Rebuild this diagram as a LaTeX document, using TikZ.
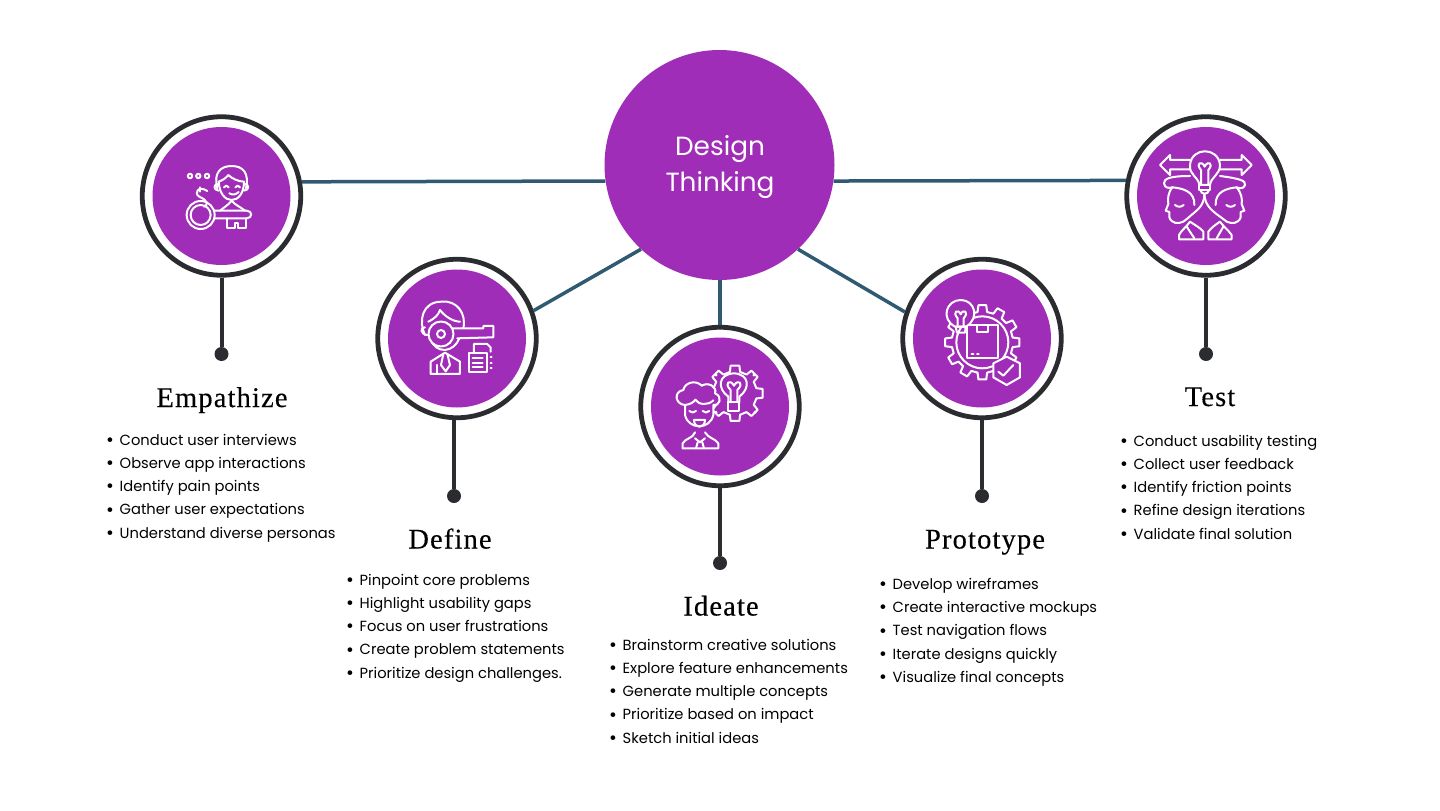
\documentclass[tikz,border=0pt]{standalone}
\usepackage{fontspec}
\setmainfont{Poppins}
\newfontfamily\headfont[LetterSpace=4,FakeBold=0.25]{Liberation Serif}
\usetikzlibrary{positioning,calc}
\definecolor{purp}{HTML}{A02DB8}
\definecolor{ringcol}{HTML}{2A2C30}
\definecolor{linkcol}{HTML}{2F5A72}
\newcommand{\bl}{\makebox[13.5pt][l]{\raisebox{-1.2pt}{\fontsize{19}{19}\selectfont\textbullet}}}
% gear outline: centre x, centre y, inner radius, outer radius, step angle
\newcommand{\gearic}[5]{
  \pgfmathsetmacro{\wa}{#5*0.30}
  \pgfmathsetmacro{\wb}{#5*0.20}
  \draw[ico, shift={(#1,#2)}] ({-\wa}:#3)
    foreach \a in {0,#5,...,359} {
      -- ({\a-\wa}:#3) -- ({\a-\wb}:#4) -- ({\a+\wb}:#4) -- ({\a+\wa}:#3)
    } -- cycle;
}
\begin{document}
\begin{tikzpicture}[
  x=1pt, y=-1pt,
  ring/.style={circle, draw=ringcol, fill=white, line width=4.8pt, minimum size=158.5pt, inner sep=0pt},
  disc/.style={circle, fill=purp, minimum size=138pt, inner sep=0pt},
  hub/.style={circle, fill=purp, minimum size=230pt, inner sep=0pt},
  hubtext/.style={align=center, text=white, inner sep=0pt, font=\fontsize{26.3}{36}\selectfont},
  dot/.style={circle, fill=ringcol, minimum size=14pt, inner sep=0pt},
  heading/.style={anchor=base, font=\headfont\fontsize{28.5}{30}\selectfont, text=black, inner sep=0pt},
  blist/.style={anchor=north west, align=left, inner sep=0pt, text=black,
                font=\fontsize{14.7}{23.2}\selectfont},
  link/.style={draw=linkcol, line width=3.5pt},
  stem/.style={draw=ringcol, line width=4pt},
  ico/.style={draw=white, line width=2pt, line join=round, line cap=round},
  crop/.style={shift={#1}, x=0.3333pt, y=-0.3333pt}
]
\useasboundingbox (0,0) rectangle (1440,811);

\node[hub] (design) at (719.5,165) {};
\node[hubtext] (designt) at (720,167) {Design\\ Thinking};

\node[ring] (emp) at (221.5,196) {};
\node[ring] (def) at (457,338.5) {};
\node[ring] (ide) at (720,406.5) {};
\node[ring] (pro) at (982,338.5) {};
\node[ring] (tes) at (1206,196) {};
\node[disc] (empd) at (emp) {};
\node[disc] (defd) at (def) {};
\node[disc] (ided) at (ide) {};
\node[disc] (prod) at (pro) {};
\node[disc] (tesd) at (tes) {};

\draw[link] (design.188) -- (emp.10.7);
\draw[link] (design.227) -- (def.20);
\draw[link] (design.south -| ide) -- (ide.north);
\draw[link] (design.-47) -- (pro.161);
\draw[link] (design.-8) -- (tes.169.3);

\node[dot] (empdot) at (221.5,354) {};
\node[dot] (defdot) at (454,496) {};
\node[dot] (idedot) at (720,563) {};
\node[dot] (prodot) at (982,496) {};
\node[dot] (tesdot) at (1206,354) {};
\draw[stem] (emp.south) -- (empdot);
\draw[stem] (def.south -| defdot) -- (defdot);
\draw[stem] (ide.south) -- (idedot);
\draw[stem] (pro.south) -- (prodot);
\draw[stem] (tes.south) -- (tesdot);

\node[heading] (emph) at (222,407) {Empathize};
\node[heading] (defh) at (450,548.5) {Define};
\node[heading] (ideh) at (721,615.5) {Ideate};
\node[heading] (proh) at (985,548.5) {Prototype};
\node[heading] (tesh) at (1210,406) {Test};

\node[blist] (empl) at (106,434) {\bl Conduct user interviews\\ \bl Observe app interactions\\ \bl Identify pain points\\ \bl Gather user expectations\\ \bl Understand diverse personas};
\node[blist] (defl) at (346,574) {\bl Pinpoint core problems\\ \bl Highlight usability gaps\\ \bl Focus on user frustrations\\ \bl Create problem statements\\ \bl Prioritize design challenges.};
\node[blist] (idel) at (609,639) {\bl Brainstorm creative solutions\\ \bl Explore feature enhancements\\ \bl Generate multiple concepts\\ \bl Prioritize based on impact\\ \bl Sketch initial ideas};
\node[blist] (prol) at (879,578) {\bl Develop wireframes\\ \bl Create interactive mockups\\ \bl Test navigation flows\\ \bl Iterate designs quickly\\ \bl Visualize final concepts};
\node[blist] (tesl) at (1120,435) {\bl Conduct usability testing\\ \bl Collect user feedback\\ \bl Identify friction points\\ \bl Refine design iterations\\ \bl Validate final solution};

% empathize icon
\begin{scope}[crop={(130,110)}]
  \foreach \x in {180,205,231} \draw[ico] (\x,198) circle (2.2pt);
  \draw[ico] (212,315) circle (14pt);
  \draw[ico] (212,315) circle (10pt);
  \draw[ico] (232,243) .. controls (205,225) and (190,250) .. (208,260) .. controls (235,272) and (235,285) .. (222,290);
  \draw[ico] (210,232) -- (210,245);
  \draw[ico] (270,302) .. controls (285,290) and (295,285) .. (305,272) .. controls (315,285) and (330,290) .. (345,302);
  \draw[ico] (252,302) -- (350,302) .. controls (368,302) and (368,325) .. (350,325) -- (252,325);
  \draw[ico] (292,325) -- (292,355) -- (315,355) -- (315,340) -- (325,340) -- (325,355) -- (348,355) -- (348,325);
  \draw[ico] (266,215) .. controls (268,250) and (285,270) .. (305,270) .. controls (325,270) and (342,250) .. (342,215)
    .. controls (325,215) and (305,205) .. (295,195) .. controls (288,205) and (275,212) .. (266,215);
  \draw[ico] (262,235) .. controls (250,190) and (270,168) .. (305,168) .. controls (340,168) and (358,190) .. (348,235);
  \draw[ico] (262,222) .. controls (250,225) and (250,240) .. (266,242);
  \draw[ico] (346,222) .. controls (358,225) and (358,240) .. (342,242);
  \draw[ico] (282,232) .. controls (286,225) and (292,225) .. (296,232);
  \draw[ico] (316,232) .. controls (320,225) and (326,225) .. (330,232);
  \draw[ico] (298,250) .. controls (308,256) and (318,254) .. (326,246);
\end{scope}

% define icon
\begin{scope}[crop={(370,250)}]
  \draw[ico] (165,255) .. controls (145,215) and (155,155) .. (215,155) .. controls (260,150) and (290,190) .. (280,235);
  \draw[ico] (175,215) .. controls (195,205) and (205,195) .. (210,180) .. controls (225,200) and (250,215) .. (270,215);
  \draw[ico] (165,232) .. controls (150,232) and (150,252) .. (172,255);
  \draw[ico] (180,265) .. controls (190,290) and (205,300) .. (225,300) .. controls (245,298) and (260,285) .. (268,265);
  \draw[ico] (182,372) -- (182,335) -- (225,308) -- (270,335) -- (270,372) -- cycle;
  \draw[ico] (220,312) -- (213,345) -- (227,364) -- (240,345) -- (232,312);
  \draw[ico] (200,345) -- (200,372);
  \draw[ico, fill=purp] (245,235) -- (340,235) -- (340,228) -- (370,228) -- (370,262) -- (262,265);
  \draw[ico, fill=purp] (213,252) circle (12.5pt);
  \draw[ico] (213,252) circle (4pt);
  \draw[ico] (298,308) rectangle (350,365);
  \draw[ico] (312,305) -- (312,282) -- (352,282) -- (362,292) -- (362,305);
  \draw[ico] (308,325) -- (338,325);
  \draw[ico] (308,338) -- (338,338);
  \draw[ico] (308,351) -- (338,351);
  \foreach \y in {322,338,354} \draw[ico] (362,\y) -- (365,\y);
\end{scope}

% ideate icon
\begin{scope}[crop={(630,325)}]
  \gearic{315}{205}{66}{84}{45}
  \foreach \p in {(258,150),(372,150),(375,262),(258,262)} \fill[white] \p circle (1.6pt);
  \draw[ico] (295,232) rectangle (328,258);
  \draw[ico] (295,232) -- (295,215) .. controls (260,190) and (265,147) .. (312,145) .. controls (358,147) and (362,190) .. (328,215) -- (328,232);
  \draw[ico] (302,232) -- (302,195) .. controls (280,175) and (300,160) .. (312,182) .. controls (324,160) and (344,175) .. (322,195) -- (322,232);
  \draw[ico, fill=purp] (165,240) .. controls (135,238) and (130,200) .. (160,195) .. controls (165,170) and (200,165) .. (215,182)
    .. controls (235,170) and (262,185) .. (255,205) .. controls (280,215) and (268,245) .. (250,240)
    -- (250,270) .. controls (240,315) and (175,315) .. (165,270) -- cycle;
  \draw[ico] (165,240) .. controls (180,238) and (192,232) .. (196,224) .. controls (205,240) and (235,242) .. (250,226);
  \draw[ico] (178,258) .. controls (184,264) and (192,264) .. (198,258);
  \draw[ico] (218,258) .. controls (224,264) and (232,264) .. (238,258);
  \draw[ico] (192,285) -- (225,285) .. controls (225,312) and (192,312) .. (192,285) -- cycle;
  \draw[ico] (158,370) -- (158,355) .. controls (165,340) and (190,340) .. (195,322);
  \draw[ico] (158,370) -- (265,370) -- (265,355) .. controls (255,340) and (235,340) .. (225,322);
  \draw[ico] (195,340) -- (210,352) -- (225,340);
  \draw[ico] (203,352) -- (198,370);
  \draw[ico] (217,352) -- (222,370);
\end{scope}

% prototype icon
\begin{scope}[crop={(895,255)}]
  \gearic{262}{262}{92}{112}{30}
  \draw[ico] (262,262) circle (26pt);
  \draw[ico, fill=purp] (215,210) rectangle (310,310);
  \draw[ico] (245,210) -- (245,232) -- (280,232) -- (280,210);
  \draw[ico] (230,296) -- (235,296);
  \draw[ico] (246,296) -- (251,296);
  \draw[ico, fill=purp] (180,215) .. controls (135,190) and (155,135) .. (197,135) .. controls (240,135) and (255,190) .. (213,215) -- cycle;
  \draw[ico] (182,215) -- (212,215) -- (210,233) -- (186,233) -- cycle;
  \draw[ico] (188,215) -- (188,190) .. controls (170,170) and (190,160) .. (197,178) .. controls (204,160) and (224,170) .. (206,190) -- (206,215);
  \draw[ico, fill=purp] (335,305) -- (375,325) -- (375,367) -- (335,390) -- (295,367) -- (295,325) -- cycle;
  \draw[ico] (310,350) -- (325,362) -- (355,330);
\end{scope}

% test icon
\begin{scope}[crop={(1115,110)}]
  \draw[ico] (225,150) -- (165,150) -- (165,135) -- (135,165) -- (165,195) -- (165,178) -- (225,178);
  \draw[ico] (315,150) -- (380,150) -- (380,135) -- (410,165) -- (380,195) -- (380,178) -- (315,178);
  \draw[ico] (253,225) .. controls (250,200) and (222,195) .. (225,165) .. controls (230,110) and (310,110) .. (315,165) .. controls (315,195) and (288,200) .. (285,225) -- cycle;
  \draw[ico] (252,225) rectangle (286,240);
  \draw[ico] (256,240) .. controls (258,255) and (280,255) .. (282,240);
  \draw[ico] (258,225) -- (258,180) .. controls (240,160) and (260,150) .. (269,170) .. controls (278,150) and (298,160) .. (280,180) -- (280,225);
  \draw[ico] (268,252) .. controls (268,290) and (245,300) .. (218,325);
  \draw[ico] (268,252) .. controls (270,290) and (295,305) .. (322,325);
  \draw[ico] (225,198) .. controls (170,198) and (145,205) .. (147,220) .. controls (150,235) and (160,235) .. (172,232);
  \draw[ico] (315,198) .. controls (370,205) and (395,212) .. (390,225) .. controls (385,238) and (375,235) .. (365,232);
  \draw[ico] (172,232) .. controls (158,250) and (158,268) .. (160,282) -- (152,302) -- (163,306) -- (163,322) .. controls (170,342) and (190,342) .. (205,335) -- (218,325);
  \draw[ico] (172,232) .. controls (205,235) and (240,245) .. (238,285);
  \draw[ico] (365,232) .. controls (380,250) and (382,268) .. (380,282) -- (388,302) -- (377,306) -- (377,322) .. controls (370,342) and (350,342) .. (335,335) -- (322,325);
  \draw[ico] (365,232) .. controls (335,235) and (300,245) .. (302,285);
  \draw[ico] (180,285) .. controls (188,292) and (198,292) .. (206,285);
  \draw[ico] (360,285) .. controls (352,292) and (342,292) .. (334,285);
  \draw[ico] (192,388) -- (192,375) .. controls (200,360) and (215,350) .. (225,335) .. controls (240,345) and (258,355) .. (265,365) -- (265,388) -- cycle;
  \draw[ico] (280,388) -- (280,365) .. controls (287,355) and (300,345) .. (315,335) .. controls (325,350) and (340,360) .. (350,375) -- (350,388) -- cycle;
  \draw[ico] (215,350) -- (238,385);
  \draw[ico] (325,350) -- (305,385);
\end{scope}
\end{tikzpicture}
\end{document}
